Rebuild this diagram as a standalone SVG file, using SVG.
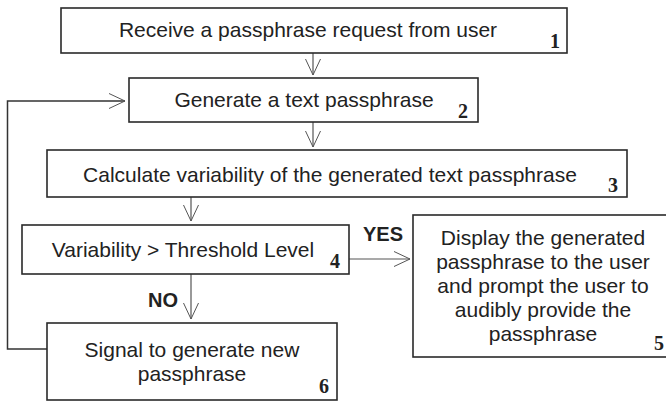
<svg xmlns="http://www.w3.org/2000/svg" width="666" height="401" viewBox="0 0 666 401">
<style>
.box{fill:#fff;stroke:#2a2a2a;stroke-width:1.6}
.t{font-family:"Liberation Sans",Arial,sans-serif;font-size:21px;fill:#222;text-anchor:middle}
.n{font-family:"Liberation Serif","Times New Roman",serif;font-size:20px;font-weight:bold;fill:#222;text-anchor:middle}
.lbl{font-family:"Liberation Sans",Arial,sans-serif;font-size:20px;font-weight:bold;fill:#222}
.c{fill:none;stroke:#555;stroke-width:1.2}
</style>
<defs>
<marker id="ah" markerWidth="18" markerHeight="18" refX="16" refY="8" orient="auto" markerUnits="userSpaceOnUse">
<polyline points="0,0.5 16,8 0,15.5" fill="none" stroke="#555" stroke-width="1"/>
</marker>
</defs>
<rect width="666" height="401" fill="#fff"/>
<g id="connectors">
<line class="c" x1="313" y1="53" x2="313" y2="75" marker-end="url(#ah)"/>
<line class="c" x1="313" y1="122" x2="313" y2="147" marker-end="url(#ah)"/>
<line class="c" x1="191" y1="197" x2="191" y2="221" marker-end="url(#ah)"/>
<line class="c" x1="349" y1="259" x2="410" y2="259" marker-end="url(#ah)"/>
<line class="c" x1="191" y1="274" x2="191" y2="319" marker-end="url(#ah)"/>
<polyline class="c" style="stroke:#333;stroke-width:1.5" points="47,349 7.5,349 7.5,101 125,101" marker-end="url(#ah)"/>
<text class="lbl" x="363" y="241">YES</text>
<text class="lbl" x="148" y="307">NO</text>
</g>
<g id="n1">
<rect class="box" x="61" y="8" width="506" height="45"/>
<text class="t" x="308" y="37">Receive a passphrase request from user</text>
<text class="n" x="555" y="48">1</text>
</g>
<g id="n2">
<rect class="box" x="129" y="78" width="349" height="44"/>
<text class="t" x="304" y="107">Generate a text passphrase</text>
<text class="n" x="463" y="118">2</text>
</g>
<g id="n3">
<rect class="box" x="47" y="150" width="580" height="47"/>
<text class="t" x="330" y="182">Calculate variability of the generated text passphrase</text>
<text class="n" x="613" y="192">3</text>
</g>
<g id="n4">
<rect class="box" x="22" y="225" width="327" height="49"/>
<text class="t" x="183" y="257">Variability &gt; Threshold Level</text>
<text class="n" x="335" y="268">4</text>
</g>
<g id="n5">
<rect class="box" x="413" y="215" width="256" height="142"/>
<text class="t" x="543" y="245">Display the generated</text>
<text class="t" x="543" y="269">passphrase to the user</text>
<text class="t" x="543" y="293">and prompt the user to</text>
<text class="t" x="543" y="317">audibly provide the</text>
<text class="t" x="543" y="341">passphrase</text>
<text class="n" x="659" y="350">5</text>
</g>
<g id="n6">
<rect class="box" x="47" y="323" width="290" height="77"/>
<text class="t" x="192" y="357">Signal to generate new</text>
<text class="t" x="192" y="381">passphrase</text>
<text class="n" x="324" y="393">6</text>
</g>
</svg>
